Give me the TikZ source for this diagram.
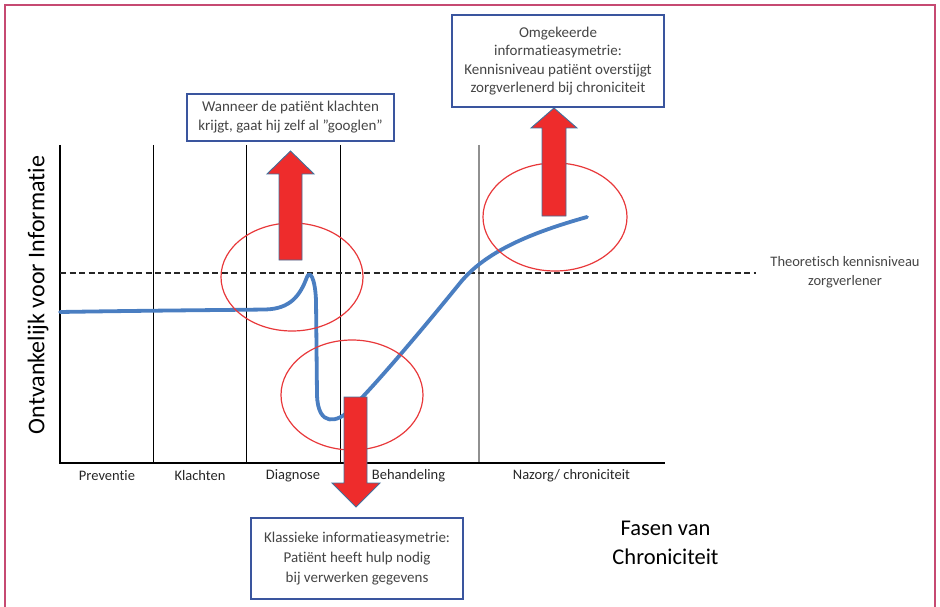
\documentclass[tikz,border=0pt]{standalone}
\usepackage{fontspec}
\setmainfont{Carlito}[Ligatures={NoCommon,NoContextual,NoRequired,NoRare}]
\definecolor{framepink}{HTML}{C64A72}
\definecolor{boxblue}{HTML}{3A559E}
\definecolor{textgray}{HTML}{454545}
\definecolor{curveblue}{HTML}{4A7EC1}
\definecolor{arrowred}{HTML}{EE2C2C}
\definecolor{arrowedge}{HTML}{41719C}
\definecolor{ringred}{HTML}{E8383A}
\definecolor{divgray}{HTML}{909090}
\begin{document}
\begin{tikzpicture}[x=1pt,y=-1pt,
  infobox/.style={draw=boxblue, line width=1.4pt, fill=white, align=center, text=textgray, inner sep=0pt},
  phase/.style={font=\fontsize{14.5}{17}\selectfont, text=black!85, inner sep=0pt},
  divider/.style={line width=0.8pt, black},
  bigarrow/.style={fill=arrowred, draw=arrowedge, line width=0.9pt, line join=miter},
  ring/.style={draw=ringred, line width=1.2pt},
  curve/.style={draw=curveblue, line width=3.8pt, line cap=round, line join=round}]
\useasboundingbox (0,0) rectangle (940,607);
% frame
\draw[framepink, line width=2pt] (5,607) -- (5,5) -- (935,5) -- (935,607);
% dividers
\coordinate (d1t) at (153,145); \coordinate (d1b) at (153,463);
\coordinate (d2t) at (246,145); \coordinate (d2b) at (246,463);
\coordinate (d3t) at (340,145); \coordinate (d3b) at (340,463);
\coordinate (d4t) at (479,145); \coordinate (d4b) at (479,463);
\draw[divider] (d1t) -- (d1b);
\draw[divider] (d2t) -- (d2b);
\draw[divider] (d3t) -- (d3b);
\draw[divgray, line width=1.4pt] (d4t) -- (d4b);
% axes
\coordinate (ytop) at (60,145);
\coordinate (origin) at (60,463);
\coordinate (xend) at (665,463);
\draw[black, line width=2.2pt] (ytop) -- (origin) -- (xend);
% theoretical level
\coordinate (dashstart) at (60,273);
\coordinate (dashend) at (756,273);
\draw[black!85, line width=1.5pt, dash pattern=on 6pt off 3.5pt] (dashstart) -- (dashend);
\node[font=\fontsize{14.5}{19}\selectfont, text=textgray, align=center] (theo) at (845,272.5) {Theoretisch kennisniveau\\zorgverlener};
% phase labels
\node[phase] (p1) at (107,476) {Preventie};
\node[phase] (p2) at (200,476) {Klachten};
\node[phase] (p3) at (293,476) {Diagnose};
\node[phase] (p4) at (408.5,476) {Behandeling};
\node[phase] (p5) at (571.5,476) {Nazorg/ chroniciteit};
% axis titles
\node[rotate=90, font=\fontsize{24}{28}\selectfont, inner sep=0pt] (ylab) at (38,295) {Ontvankelijk voor Informatie};
\node[font=\fontsize{22.5}{29}\selectfont, align=center, inner sep=0pt] (xlab) at (665.5,542.5) {Fasen van\\Chroniciteit};
% curve
\draw[curve] (60,312) .. controls (150,310.5) and (230,310) .. (265,309.5)
  .. controls (290,309) and (300,296) .. (307,277)
  .. controls (310,270) and (315,278) .. (316,300)
  -- (317,395)
  .. controls (318,428) and (338,422) .. (350,410)
  .. controls (380,380) and (430,320) .. (460,283)
  .. controls (485,252) and (530,233) .. (587,217);
% rings
\draw[ring] (292,277) ellipse [x radius=71, y radius=54];
\draw[ring] (352,395) ellipse [x radius=71, y radius=55];
\draw[ring] (555,217) ellipse [x radius=72, y radius=54];
% block arrows
\filldraw[bigarrow] (279,260) -- (279,174) -- (267,174) -- (290.5,151) -- (314,174) -- (302,174) -- (302,260) -- cycle;
\filldraw[bigarrow] (542,216) -- (542,128) -- (531,128) -- (554,108) -- (577,128) -- (566,128) -- (566,216) -- cycle;
\filldraw[bigarrow] (344,397) -- (344,483) -- (332,483) -- (356,507) -- (380,483) -- (367,483) -- (367,397) -- cycle;
% boxes
\node[infobox, minimum width=207pt, minimum height=47pt, font=\fontsize{15}{19}\selectfont] (b1) at (290.5,117.5) {Wanneer de patiënt klachten\\krijgt, gaat hij zelf al ”googlen”};
\node[infobox, minimum width=212pt, minimum height=92pt, font=\fontsize{15}{18.5}\selectfont] (b2) at (558,61) {Omgekeerde\\informatieasymetrie:\\Kennisniveau patiënt overstijgt\\zorgverlenerd bij chroniciteit};
\node[infobox, minimum width=212pt, minimum height=81pt, font=\fontsize{15}{20}\selectfont] (b3) at (357,558.5) {Klassieke informatieasymetrie:\\Patiënt heeft hulp nodig\\bij verwerken gegevens};
\end{tikzpicture}
\end{document}
